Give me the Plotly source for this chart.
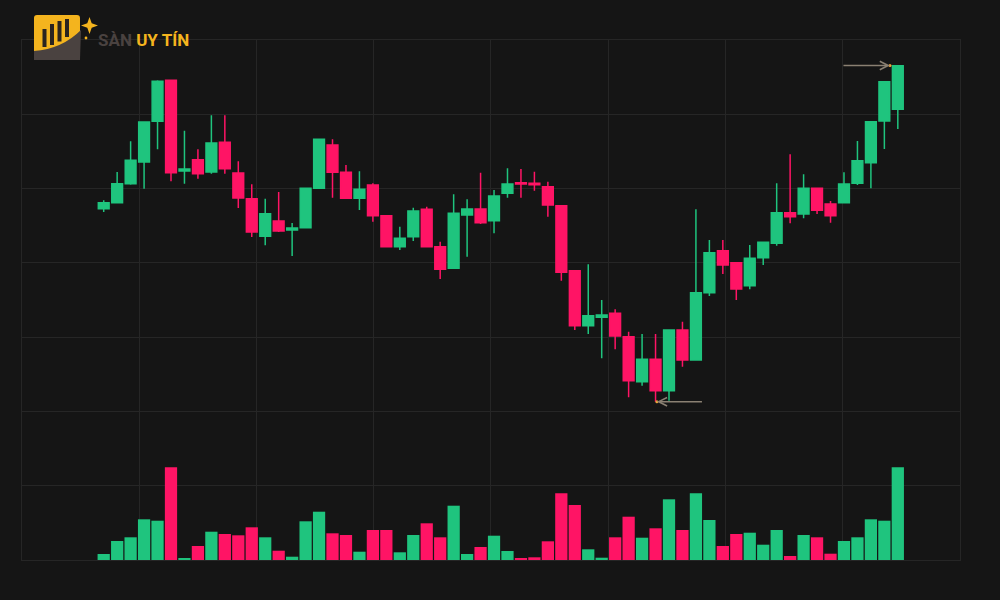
import plotly.graph_objects as go

# ---------------- data ----------------
idx = list(range(60))

open_ = [47.29, 48.10, 50.66, 53.58, 59.06, 64.58, 52.37, 53.89, 52.23, 56.23,
         52.10, 48.64, 43.58, 45.64, 44.42, 44.73, 50.04, 55.87, 52.19, 48.69,
         50.48, 46.35, 42.18, 43.52, 47.21, 42.18, 39.27, 46.44, 47.25, 45.68,
         49.36, 50.79, 50.71, 50.25, 47.70, 38.95, 31.54, 32.67, 33.21, 30.06,
         24.00, 27.02, 22.79, 30.96, 26.92, 35.98, 41.64, 40.02, 36.93, 40.70,
         42.63, 46.75, 46.58, 50.04, 47.92, 48.10, 50.71, 53.48, 59.10, 60.67]

high = [48.42, 52.23, 56.37, 59.03, 64.58, 64.62, 57.79, 55.29, 59.87, 59.87,
        53.67, 50.58, 48.64, 49.54, 45.37, 50.10, 56.67, 56.63, 53.17, 52.33,
        50.71, 46.44, 44.87, 47.43, 47.56, 42.85, 49.23, 48.56, 52.14, 49.81,
        52.73, 52.64, 52.27, 50.93, 47.72, 38.97, 39.81, 35.00, 33.75, 30.73,
        30.42, 30.42, 31.00, 32.08, 47.21, 43.08, 43.08, 40.05, 42.41, 42.81,
        50.71, 54.61, 51.92, 50.08, 48.33, 52.19, 56.41, 59.03, 64.42, 66.57]

low = [46.85, 48.06, 50.52, 49.98, 55.29, 50.98, 50.66, 51.33, 52.00, 52.00,
       47.39, 43.48, 42.37, 44.16, 40.92, 44.69, 50.01, 48.77, 48.67, 47.12,
       45.54, 42.14, 41.73, 42.94, 42.14, 37.83, 39.24, 40.83, 45.23, 43.98,
       48.77, 48.77, 49.72, 46.21, 37.60, 30.96, 30.42, 27.15, 28.36, 21.90,
       23.46, 21.31, 21.44, 26.02, 26.92, 35.54, 38.50, 35.00, 36.44, 39.71,
       42.31, 45.33, 46.00, 46.58, 45.41, 48.06, 50.48, 50.04, 55.33, 58.02]

close = [48.10, 50.66, 53.81, 58.96, 64.44, 52.14, 52.64, 52.00, 56.14, 52.68,
         48.73, 44.16, 46.62, 44.29, 44.69, 50.04, 56.63, 52.19, 48.69, 49.90,
         46.35, 42.18, 43.31, 46.98, 42.18, 39.13, 46.67, 47.25, 45.41, 49.00,
         50.62, 50.62, 50.52, 47.79, 38.73, 31.54, 32.89, 32.98, 30.15, 24.14,
         27.02, 22.79, 30.96, 26.92, 35.98, 41.37, 39.71, 36.48, 40.61, 42.77,
         46.75, 46.21, 50.04, 47.08, 46.35, 50.62, 53.75, 59.00, 64.39, 66.54]

volume = [60, 190, 227, 407, 393, 927, 17, 140, 283, 260,
          247, 327, 227, 93, 33, 387, 483, 267, 250, 83,
          300, 300, 77, 250, 367, 227, 543, 60, 130, 243,
          90, 17, 27, 187, 667, 550, 107, 23, 227, 433,
          223, 317, 607, 300, 667, 400, 140, 260, 273, 153,
          300, 40, 250, 227, 63, 190, 227, 407, 393, 927]

logo_dark = "SÀN"
logo_gold = "UY TÍN"

# ---------------- style ----------------
GREEN = "#1fc47e"
RED = "#ff1465"
BG = "#151515"
GRID = "#262626"
ARROW = "#8a8072"
GOLD = "#f4b41e"
BROWN = "#4a4240"

vol_colors = [GREEN if c >= o else RED for o, c in zip(open_, close)]

fig = go.Figure()

fig.add_trace(go.Bar(
    x=idx, y=volume, marker=dict(color=vol_colors, line=dict(width=0)),
    width=0.91, yaxis="y2", hoverinfo="skip", showlegend=False))

fig.add_trace(go.Candlestick(
    x=idx, open=open_, high=high, low=low, close=close,
    increasing=dict(line=dict(color=GREEN, width=1.5), fillcolor=GREEN),
    decreasing=dict(line=dict(color=RED, width=1.5), fillcolor=RED),
    whiskerwidth=0, showlegend=False, hoverinfo="skip"))

# arrows at the highest high and the lowest low
imax = max(idx, key=lambda i: high[i])
imin = min(idx, key=lambda i: low[i])
top_tip = imax - 0.58
bot_tip = imin + 0.1
annotations = [
    dict(x=top_tip, y=high[imax], ax=imax - 4.15, ay=high[imax],
         xref="x", yref="y", axref="x", ayref="y", text="", showarrow=True,
         arrowhead=5, arrowsize=1.1, arrowwidth=1.5, arrowcolor=ARROW, standoff=0),
    dict(x=bot_tip, y=low[imin], ax=imin + 3.56, ay=low[imin],
         xref="x", yref="y", axref="x", ayref="y", text="", showarrow=True,
         arrowhead=5, arrowsize=1.1, arrowwidth=1.5, arrowcolor=ARROW, standoff=0),
]
fig.add_trace(go.Scatter(x=[top_tip, bot_tip], y=[high[imax], low[imin]], mode="markers",
                         marker=dict(color="#e9a43a", size=3), hoverinfo="skip",
                         showlegend=False))

# ---------------- logo (decorative, paper coordinates) ----------------
L, T, W, H = 22, 40, 938, 520


def P(xp, yp):
    return f"{(xp - L) / W:.5f},{(T + H - yp) / H:.5f}"


shapes = []
# yellow rounded square
shapes.append(dict(type="path", xref="paper", yref="paper", line=dict(width=0), fillcolor=GOLD,
                   path=f"M{P(34,18)} Q{P(34,15)} {P(37,15)} L{P(77,15)} Q{P(80,15)} {P(80,18)} "
                        f"L{P(80,54)} L{P(34,54)} Z"))
# dark lower part under the swoosh
shapes.append(dict(type="path", xref="paper", yref="paper", line=dict(width=0), fillcolor=BROWN,
                   path=f"M{P(34,51)} Q{P(62,49)} {P(81,30)} L{P(80,60)} L{P(34,60)} Z"))
# bars in the icon
for x0, x1, y0, y1 in [(42.5, 46.5, 29, 47), (50, 54, 24, 45), (57.5, 61.5, 21, 41.5), (65, 69, 19, 37)]:
    shapes.append(dict(type="rect", xref="paper", yref="paper", line=dict(width=0),
                       fillcolor="#2a2420",
                       x0=(x0 - L) / W, x1=(x1 - L) / W, y0=(T + H - y1) / H, y1=(T + H - y0) / H))
# sparkle star (4 points)
cx, cy, r, ri = 89.5, 25.5, 8.5, 2.2
shapes.append(dict(type="path", xref="paper", yref="paper", line=dict(width=0), fillcolor=GOLD,
                   path=(f"M{P(cx, cy - r)} L{P(cx + ri, cy - ri)} L{P(cx + r, cy)} "
                         f"L{P(cx + ri, cy + ri)} L{P(cx, cy + r)} L{P(cx - ri, cy + ri)} "
                         f"L{P(cx - r, cy)} L{P(cx - ri, cy - ri)} Z")))
shapes.append(dict(type="circle", xref="paper", yref="paper", line=dict(width=0), fillcolor=GOLD,
                   x0=(84.6 - L) / W, x1=(87.4 - L) / W, y0=(T + H - 39.4) / H, y1=(T + H - 36.6) / H))

annotations.append(dict(
    xref="paper", yref="paper", x=(96 - L) / W, y=(T + H - 40) / H, xanchor="left", yanchor="middle",
    showarrow=False,
    text=f"<b><span style='color:{BROWN}'>{logo_dark}</span> <span style='color:{GOLD}'>{logo_gold}</span></b>",
    font=dict(family="Roboto", size=17)))

fig.update_layout(
    width=1000, height=600,
    margin=dict(l=22, r=40, t=40, b=40, pad=0),
    paper_bgcolor=BG, plot_bgcolor=BG,
    showlegend=False,
    boxgap=0.2, boxgroupgap=0,
    xaxis=dict(range=[-6.07, 63.62], tickmode="linear", tick0=-6.07, dtick=8.711,
               showgrid=True, gridcolor=GRID, gridwidth=1, showticklabels=False, ticks="",
               zeroline=False, showline=True, mirror=True, linecolor=GRID, linewidth=1,
               rangeslider=dict(visible=False), fixedrange=True),
    yaxis=dict(range=[0, 70], tickmode="linear", tick0=0, dtick=10,
               showgrid=True, gridcolor=GRID, gridwidth=1, showticklabels=False, ticks="",
               zeroline=False, showline=True, mirror=True, linecolor=GRID, linewidth=1,
               fixedrange=True),
    yaxis2=dict(range=[0, 5200], overlaying="y", visible=False, fixedrange=True),
    shapes=shapes,
    annotations=annotations,
)

fig.write_html("out.html")
